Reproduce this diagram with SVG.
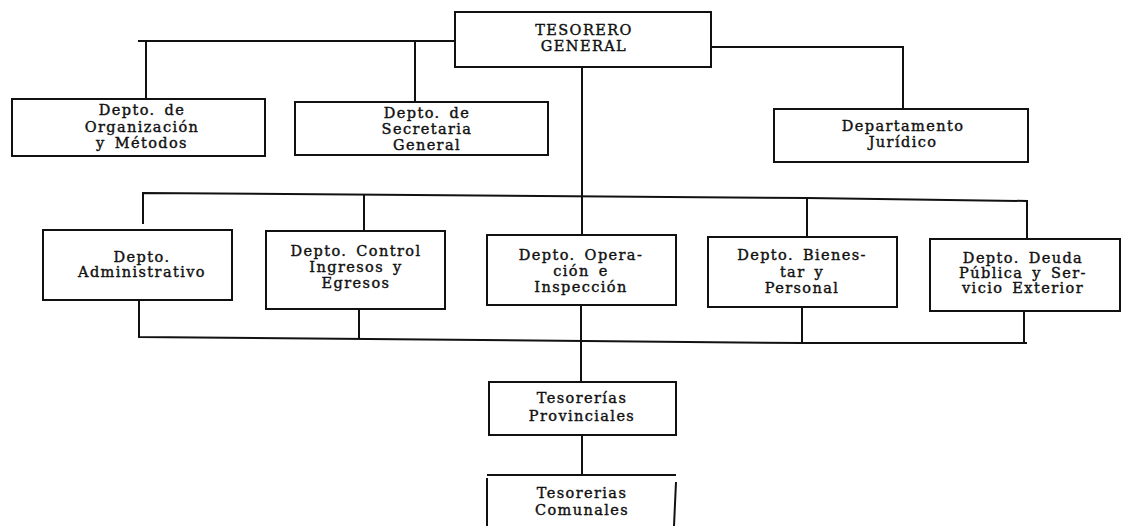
<svg xmlns="http://www.w3.org/2000/svg" width="1131" height="526" viewBox="0 0 1131 526">
<style>
.bx{fill:none;stroke:#111;stroke-width:2}
.ln{fill:none;stroke:#111;stroke-width:2}
text{font-family:"DejaVu Serif","Liberation Serif",serif;font-size:14.5px;fill:#111;stroke:#111;stroke-width:0.4px;text-anchor:middle;letter-spacing:1.4px;word-spacing:3px}
</style>
<rect width="1131" height="526" fill="#fff"/>
<g id="connectors">
<polyline class="ln" points="455,41 138,41"/>
<line class="ln" x1="146" y1="41" x2="146" y2="99"/>
<line class="ln" x1="415" y1="41" x2="415" y2="102"/>
<polyline class="ln" points="711,47 903,47 903,109"/>
<line class="ln" x1="582" y1="67" x2="582" y2="235"/>
<polyline class="ln" points="143,224 143,193 807,198 1027,201 1027,239"/>
<line class="ln" x1="364" y1="194" x2="364" y2="231"/>
<line class="ln" x1="807" y1="198" x2="807" y2="237"/>
<polyline class="ln" points="139,300 139,337 802,343 1027,343"/>
<line class="ln" x1="359" y1="309" x2="359" y2="339"/>
<line class="ln" x1="581" y1="305" x2="581" y2="382"/>
<line class="ln" x1="802" y1="307" x2="802" y2="343"/>
<line class="ln" x1="1024" y1="311" x2="1024" y2="343"/>
<line class="ln" x1="582" y1="435" x2="582" y2="475"/>
</g>
<g id="tesorero">
<rect class="bx" x="455" y="12" width="256" height="55"/>
<text x="584" y="35">TESORERO</text>
<text x="584" y="51">GENERAL</text>
</g>
<g id="organizacion">
<rect class="bx" x="12" y="99" width="253" height="57"/>
<text x="142" y="115">Depto. de</text>
<text x="142" y="132">Organización</text>
<text x="142" y="148">y Métodos</text>
</g>
<g id="secretaria">
<rect class="bx" x="295" y="102" width="253" height="53"/>
<text x="427" y="118">Depto. de</text>
<text x="427" y="134">Secretaria</text>
<text x="427" y="150">General</text>
</g>
<g id="juridico">
<rect class="bx" x="774" y="109" width="254" height="53"/>
<text x="903" y="131">Departamento</text>
<text x="903" y="147">Jurídico</text>
</g>
<g id="administrativo">
<rect class="bx" x="43" y="230" width="189" height="70"/>
<text x="142" y="262">Depto.</text>
<text x="142" y="277">Administrativo</text>
</g>
<g id="control">
<rect class="bx" x="266" y="231" width="179" height="78"/>
<text x="356" y="256">Depto. Control</text>
<text x="356" y="272">Ingresos y</text>
<text x="356" y="288">Egresos</text>
</g>
<g id="operacion">
<rect class="bx" x="487" y="235" width="189" height="70"/>
<text x="581" y="260">Depto. Opera-</text>
<text x="581" y="276">ción e</text>
<text x="581" y="292">Inspección</text>
</g>
<g id="bienestar">
<rect class="bx" x="708" y="237" width="189" height="70"/>
<text x="802" y="260">Depto. Bienes-</text>
<text x="802" y="277">tar y</text>
<text x="802" y="293">Personal</text>
</g>
<g id="deuda">
<rect class="bx" x="930" y="239" width="190" height="72"/>
<text x="1023" y="263">Depto. Deuda</text>
<text x="1023" y="278">Pública y Ser-</text>
<text x="1023" y="293">vicio Exterior</text>
</g>
<g id="provinciales">
<rect class="bx" x="489" y="382" width="187" height="53"/>
<text x="582" y="403">Tesorerías</text>
<text x="582" y="421">Provinciales</text>
</g>
<g id="comunales">
<path class="bx" d="M487,478 L487,526 M487,475 L676,475 M676,482 L674,526"/>
<text x="582" y="498">Tesorerias</text>
<text x="582" y="515">Comunales</text>
</g>
</svg>
